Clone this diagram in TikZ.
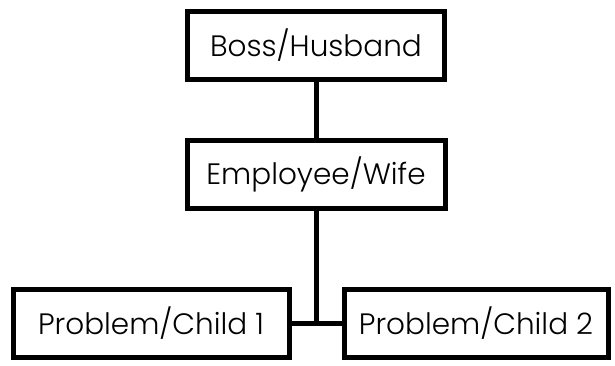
\documentclass[tikz,border=0pt]{standalone}
\usepackage{fontspec}
\setmainfont{Poppins}[UprightFont=* Light]
\begin{document}
\begin{tikzpicture}[x=1pt,y=-1pt,
  box/.style={draw,line width=5pt,minimum width=#1,minimum height=68pt,inner sep=0pt,font=\fontsize{29.5}{34}\selectfont},
  link/.style={line width=5pt}]
\useasboundingbox (0,0) rectangle (615,365);
\node[box=257pt] (boss) at (316,45) {Boss/Husband};
\node[box=258pt] (emp) at (316,174) {Employee/Wife};
\node[box=276pt] (c1) at (151,323) {Problem/Child 1};
\node[box=264pt] (c2) at (476,323) {Problem/Child 2};
\coordinate (j) at (emp.south |- c1.east);
\draw[link] (boss) -- (emp);
\draw[link] (emp.south) -- (j);
\draw[link] (c1.east) -- (c2.west);
\end{tikzpicture}
\end{document}
